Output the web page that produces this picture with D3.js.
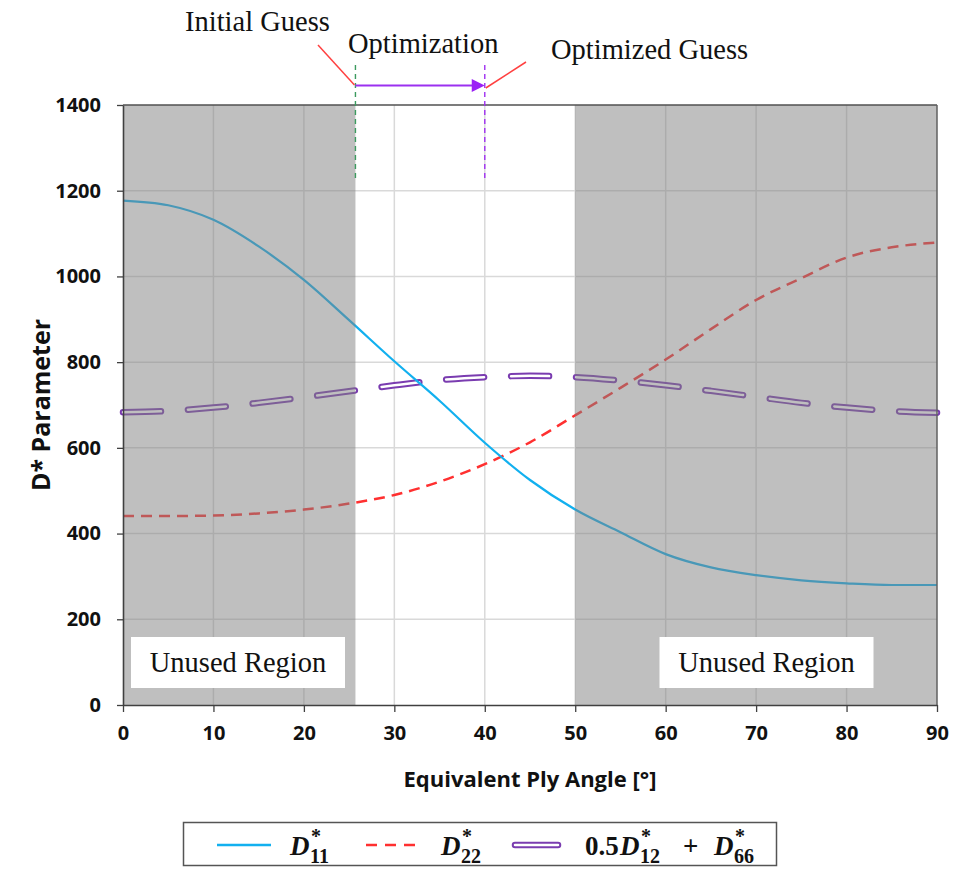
<!DOCTYPE html>
<meta charset="utf-8">
<script src="https://d3js.org/d3.v7.min.js"></script>
<style>
   body {
      background-color: white;
      margin: 0;
      padding: 0;
   }
   .tick text {
      font-family: "Open Sans";
      font-weight: 700;
      font-size: 20px;
      fill: #111;
   }
   .serif {
      font-family: "Liberation Serif";
      fill: #111;
   }
   .math {
      font-family: "Liberation Serif";
      font-weight: 700;
      fill: #111;
   }
</style>
<body>
<svg id="chart" width="957" height="871"></svg>
<script>

   // ply angle (deg) and the three D* curves
   var angles = [0, 5, 10, 15, 20, 25, 30, 35, 40, 45, 50, 55, 60, 65, 70, 75, 80, 85, 90];
   var d11 = [1177, 1166, 1132, 1070, 992, 898, 802, 710, 612, 525, 456, 403, 352, 321, 303, 291, 284, 280, 280];
   var d22 = [441, 441, 442, 447, 456, 470, 490, 521, 562, 613, 676, 740, 806, 877, 945, 996, 1044, 1068, 1079];
   var d1266 = [683, 686, 694, 705, 718, 732, 746, 758, 765, 768, 765, 757, 746, 733, 719, 705, 694, 686, 682];

   var xTicks = [0, 10, 20, 30, 40, 50, 60, 70, 80, 90];
   var yTicks = [0, 200, 400, 600, 800, 1000, 1200, 1400];

   var initialGuess = 25.7;
   var optimizedGuess = 40;
   var unusedRegions = [[0, 25.7], [50, 90]];

   var svg = d3.select("#chart");

   var x = d3.scaleLinear().domain([0, 90]).range([123, 937]);
   var y = d3.scaleLinear().domain([0, 1400]).range([705, 105]);

   // grid
   var grid = svg.append("g");
   grid.selectAll(".vg")
      .data(xTicks.slice(1, -1))
      .enter().append("line")
      .attr("x1", d => x(d)).attr("x2", d => x(d))
      .attr("y1", y(0)).attr("y2", y(1400))
      .attr("stroke", "#d9d9d9").attr("stroke-width", 1.5);
   grid.selectAll(".hg")
      .data(yTicks.slice(1, -1))
      .enter().append("line")
      .attr("x1", x(0)).attr("x2", x(90))
      .attr("y1", d => y(d)).attr("y2", d => y(d))
      .attr("stroke", "#d9d9d9").attr("stroke-width", 1.5);

   var line = function (vals) {
      return d3.line()
         .x((d, i) => x(angles[i]))
         .y(d => y(d))
         .curve(d3.curveMonotoneX)(vals);
   };

   // 0.5 D12 + D66 : double outlined dashes
   svg.append("path")
      .attr("d", line(d1266))
      .attr("fill", "none")
      .attr("stroke", "#7a3cb0")
      .attr("stroke-width", 6.5)
      .attr("stroke-linecap", "round")
      .attr("stroke-dasharray", "38,27");
   svg.append("path")
      .attr("d", line(d1266))
      .attr("fill", "none")
      .attr("stroke", "white")
      .attr("stroke-width", 2.5)
      .attr("stroke-linecap", "round")
      .attr("stroke-dasharray", "38,27");

   svg.append("path")
      .attr("d", line(d22))
      .attr("fill", "none")
      .attr("stroke", "#ff3030")
      .attr("stroke-width", 2.5)
      .attr("stroke-dasharray", "11,7");

   svg.append("path")
      .attr("d", line(d11))
      .attr("fill", "none")
      .attr("stroke", "#12b0ef")
      .attr("stroke-width", 2.2);

   // unused regions (semi transparent over the curves)
   svg.selectAll(".unused")
      .data(unusedRegions)
      .enter().append("rect")
      .attr("x", d => x(d[0]))
      .attr("width", d => x(d[1]) - x(d[0]))
      .attr("y", y(1400))
      .attr("height", y(0) - y(1400))
      .attr("fill", "#808080")
      .attr("fill-opacity", 0.5);

   // label boxes
   var boxCenters = [238, 766.5];
   var boxes = svg.selectAll(".lbl")
      .data(boxCenters)
      .enter().append("g");
   boxes.append("rect")
      .attr("x", d => d - 107)
      .attr("y", 637)
      .attr("width", 214)
      .attr("height", 51)
      .attr("fill", "white");
   boxes.append("text")
      .attr("class", "serif")
      .attr("x", d => d)
      .attr("y", 672)
      .attr("text-anchor", "middle")
      .style("font-size", "28.5px")
      .text("Unused Region");

   // frame
   svg.append("line")
      .attr("x1", x(0)).attr("x2", x(90))
      .attr("y1", y(1400)).attr("y2", y(1400))
      .attr("stroke", "#505050").attr("stroke-width", 1.5);
   svg.append("line")
      .attr("x1", x(90)).attr("x2", x(90))
      .attr("y1", y(1400)).attr("y2", y(0))
      .attr("stroke", "#606060").attr("stroke-width", 1.5);

   // axes
   var xAxis = svg.append("g")
      .attr("transform", "translate(0," + y(0) + ")")
      .call(d3.axisBottom(x).tickValues(xTicks).tickSize(7).tickSizeOuter(0).tickPadding(14));
   var yAxis = svg.append("g")
      .attr("transform", "translate(" + x(0) + ",0)")
      .call(d3.axisLeft(y).tickValues(yTicks).tickFormat(d3.format("d")).tickSize(6).tickSizeOuter(0).tickPadding(16));
   [xAxis, yAxis].forEach(function (a) {
      a.select(".domain").attr("stroke", "#404040").attr("stroke-width", 1.6);
      a.selectAll(".tick line").attr("stroke", "#404040").attr("stroke-width", 1.3);
   });

   svg.append("text")
      .attr("x", (x(0) + x(90)) / 2)
      .attr("y", 787)
      .attr("text-anchor", "middle")
      .style("font-family", "Open Sans")
      .style("font-weight", 700)
      .style("font-size", "22px")
      .style("fill", "#111")
      .text("Equivalent Ply Angle [°]");

   svg.append("text")
      .attr("transform", "translate(50," + (y(0) + y(1400)) / 2 + ") rotate(-90)")
      .attr("text-anchor", "middle")
      .style("font-family", "Open Sans")
      .style("font-weight", 700)
      .style("font-size", "25px")
      .style("fill", "#111")
      .text("D* Parameter");

   // optimization annotation
   var ann = svg.append("g");
   ann.append("line")
      .attr("x1", x(initialGuess)).attr("x2", x(initialGuess))
      .attr("y1", 65).attr("y2", 180)
      .attr("stroke", "#3c9a5f").attr("stroke-width", 1.4)
      .attr("stroke-dasharray", "5,4");
   ann.append("line")
      .attr("x1", x(optimizedGuess)).attr("x2", x(optimizedGuess))
      .attr("y1", 65).attr("y2", 180)
      .attr("stroke", "#a030f0").attr("stroke-width", 1.4)
      .attr("stroke-dasharray", "5,4");
   ann.append("line")
      .attr("x1", x(initialGuess)).attr("x2", x(optimizedGuess) - 12)
      .attr("y1", 85.5).attr("y2", 85.5)
      .attr("stroke", "#9b30f0").attr("stroke-width", 2);
   ann.append("path")
      .attr("d", "M" + (x(optimizedGuess) - 13) + ",79 L" + x(optimizedGuess) + ",85.5 L" + (x(optimizedGuess) - 13) + ",92 Z")
      .attr("fill", "#9b20f5");
   ann.append("line")
      .attr("x1", 318).attr("y1", 45).attr("x2", x(initialGuess) - 1).attr("y2", 85)
      .attr("stroke", "#ff4040").attr("stroke-width", 1.5);
   ann.append("line")
      .attr("x1", x(optimizedGuess) + 1).attr("y1", 88).attr("x2", 526).attr("y2", 62)
      .attr("stroke", "#ff4040").attr("stroke-width", 1.5);
   ann.append("text").attr("class", "serif")
      .attr("x", 185).attr("y", 31).style("font-size", "28.5px").text("Initial Guess");
   ann.append("text").attr("class", "serif")
      .attr("x", 348).attr("y", 53).style("font-size", "28.5px").text("Optimization");
   ann.append("text").attr("class", "serif")
      .attr("x", 551).attr("y", 59).style("font-size", "28.5px").text("Optimized Guess");

   // legend
   var lg = svg.append("g");
   lg.append("rect")
      .attr("x", 183.5).attr("y", 822.5).attr("width", 593).attr("height", 43)
      .attr("fill", "white").attr("stroke", "#555").attr("stroke-width", 1.5);
   lg.append("line")
      .attr("x1", 217).attr("x2", 271).attr("y1", 845).attr("y2", 845)
      .attr("stroke", "#12b0ef").attr("stroke-width", 2.5);
   lg.append("line")
      .attr("x1", 366).attr("x2", 420).attr("y1", 845).attr("y2", 845)
      .attr("stroke", "#ff3030").attr("stroke-width", 2.5)
      .attr("stroke-dasharray", "11,8");
   lg.append("line")
      .attr("x1", 515).attr("x2", 558).attr("y1", 845).attr("y2", 845)
      .attr("stroke", "#7a3cb0").attr("stroke-width", 6.5).attr("stroke-linecap", "round");
   lg.append("line")
      .attr("x1", 515).attr("x2", 558).attr("y1", 845).attr("y2", 845)
      .attr("stroke", "white").attr("stroke-width", 2.5).attr("stroke-linecap", "round");

   function dsym(x0, sub) {
      lg.append("text").attr("class", "math")
         .attr("x", x0).attr("y", 855).style("font-size", "27px").style("font-style", "italic").text("D");
      lg.append("text").attr("class", "math")
         .attr("x", x0 + 21).attr("y", 843).style("font-size", "20px").text("*");
      lg.append("text").attr("class", "math")
         .attr("x", x0 + 20).attr("y", 863).style("font-size", "20px").text(sub);
   }
   dsym(290, "11");
   dsym(441, "22");
   lg.append("text").attr("class", "math")
      .attr("x", 585).attr("y", 855).style("font-size", "27px").text("0.5");
   dsym(620, "12");
   lg.append("text").attr("class", "math")
      .attr("x", 683).attr("y", 855).style("font-size", "27px").text("+");
   dsym(714, "66");

</script>
</body>
